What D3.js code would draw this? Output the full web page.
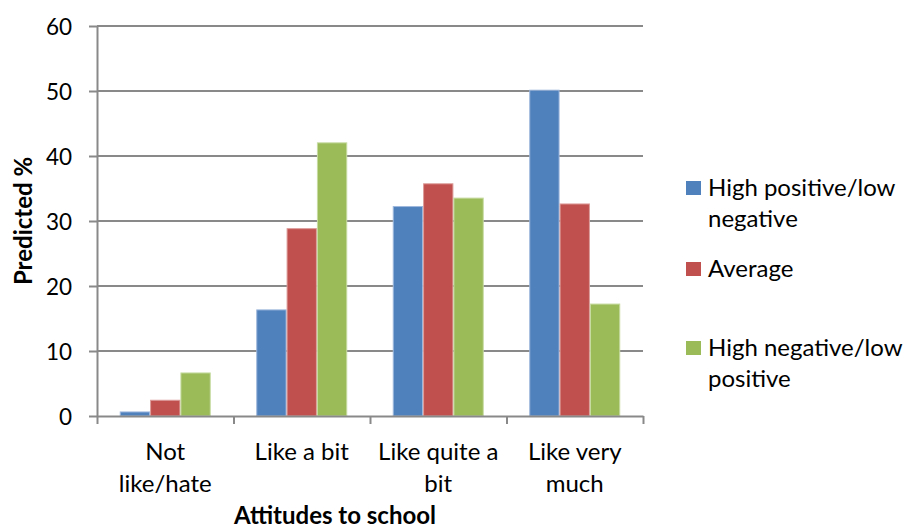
<!DOCTYPE html>
<html>
<head>
<meta charset="utf-8">
<script src="https://cdn.jsdelivr.net/npm/d3@7"></script>
<style>
  html, body { margin: 0; padding: 0; background: #fff; }
  svg { display: block; font-family: Lato, "Open Sans", sans-serif; }
</style>
</head>
<body>
<svg id="chart" width="906" height="530"></svg>
<script>
const categories = ["Not like/hate", "Like a bit", "Like quite a bit", "Like very much"];
const categoryLines = [["Not", "like/hate"], ["Like a bit"], ["Like quite a", "bit"], ["Like very", "much"]];
const seriesNames = ["High positive/low negative", "Average", "High negative/low positive"];
const legendLines = [["High positive/low", "negative"], ["Average"], ["High negative/low", "positive"]];
const highPositive = [0.7, 16.4, 32.3, 50.2];
const average = [2.5, 28.9, 35.8, 32.7];
const highNegative = [6.7, 42.1, 33.6, 17.3];
const yTicks = [0, 10, 20, 30, 40, 50, 60];
const colors = ["#4F81BD", "#C0504D", "#9BBB59"];
const strokeColors = ["#9db6dc", "#dc9c9a", "#c6dba0"];
const yTitle = "Predicted %";
const xTitle = "Attitudes to school";

const seriesValues = [highPositive, average, highNegative];

const svg = d3.select("#chart");
const plotLeft = 97, plotRight = 643, plotTop = 26, plotBottom = 416;
const labelSize = 24;

const x = d3.scaleBand().domain(categories).range([plotLeft, plotRight]).paddingInner(0).paddingOuter(0);
const xs = d3.scaleBand().domain(seriesNames).range([0, x.bandwidth()]).paddingInner(0).paddingOuter(0.75);
const xEdge = d3.scaleLinear().domain([0, categories.length]).range([plotLeft, plotRight]);
const y = d3.scaleLinear().domain([0, 60]).range([plotBottom, plotTop]);

// gridlines
svg.append("g")
  .selectAll("line")
  .data(yTicks.filter(d => d > 0))
  .join("line")
  .attr("x1", plotLeft).attr("x2", plotRight)
  .attr("y1", d => y(d)).attr("y2", d => y(d))
  .attr("stroke", "#898989").attr("stroke-width", 2);

// bars
const groups = svg.append("g")
  .selectAll("g")
  .data(seriesNames)
  .join("g")
  .attr("fill", (d, i) => colors[i])
  .attr("stroke", (d, i) => strokeColors[i])
  .attr("stroke-width", 1);

groups.selectAll("rect")
  .data((s, i) => seriesValues[i].map((v, j) => ({ s, v, c: categories[j] })))
  .join("rect")
  .attr("x", d => x(d.c) + xs(d.s) + 0.5)
  .attr("width", xs.bandwidth() - 1)
  .attr("y", d => y(d.v) + 0.5)
  .attr("height", d => y(0) - y(d.v) - 0.5);

// y axis
const yAxis = svg.append("g")
  .attr("transform", `translate(${plotLeft},0)`)
  .call(d3.axisLeft(y).tickValues(yTicks).tickSize(8).tickSizeOuter(0).tickPadding(17).tickFormat(d3.format("d")));
yAxis.select(".domain").attr("stroke", "#898989").attr("stroke-width", 2);
yAxis.selectAll(".tick line").attr("stroke", "#898989").attr("stroke-width", 2);
yAxis.selectAll(".tick text").attr("fill", "#000").attr("font-size", 22.5)
  .attr("font-family", "Lato, sans-serif").attr("dy", "0.36em");

// x axis
const xAxis = svg.append("g")
  .attr("transform", `translate(0,${plotBottom})`)
  .call(d3.axisBottom(xEdge).tickValues(d3.range(categories.length + 1)).tickSize(8).tickSizeOuter(0).tickFormat(""));
xAxis.select(".domain").attr("stroke", "#898989").attr("stroke-width", 2);
xAxis.selectAll(".tick line").attr("stroke", "#898989").attr("stroke-width", 2);

// category labels
const catLabels = svg.append("g").attr("font-size", labelSize).attr("fill", "#000").attr("text-anchor", "middle");
categories.forEach((c, i) => {
  const cx = x(c) + x.bandwidth() / 2;
  const t = catLabels.append("text").attr("x", cx).attr("y", 460);
  categoryLines[i].forEach((line, k) => {
    t.append("tspan").attr("x", cx).attr("y", 460 + k * 31.5).text(line);
  });
});

// axis titles
svg.append("text")
  .attr("transform", `translate(32,${(plotTop + plotBottom) / 2}) rotate(-90)`)
  .attr("text-anchor", "middle").attr("font-size", labelSize).attr("font-weight", "bold")
  .attr("fill", "#000").text(yTitle);

svg.append("text")
  .attr("x", 335).attr("y", 524)
  .attr("text-anchor", "middle").attr("font-size", labelSize).attr("font-weight", "bold")
  .attr("fill", "#000").text(xTitle);

// legend
const legendY = [181, 262, 341];
const legend = svg.append("g");
seriesNames.forEach((s, i) => {
  legend.append("rect").attr("x", 686).attr("y", legendY[i]).attr("width", 15).attr("height", 14)
    .attr("fill", colors[i]);
  const t = legend.append("text").attr("font-size", labelSize).attr("fill", "#000");
  legendLines[i].forEach((line, k) => {
    t.append("tspan").attr("x", 708).attr("y", legendY[i] + 14.5 + k * 31.5).text(line);
  });
});
</script>
</body>
</html>
